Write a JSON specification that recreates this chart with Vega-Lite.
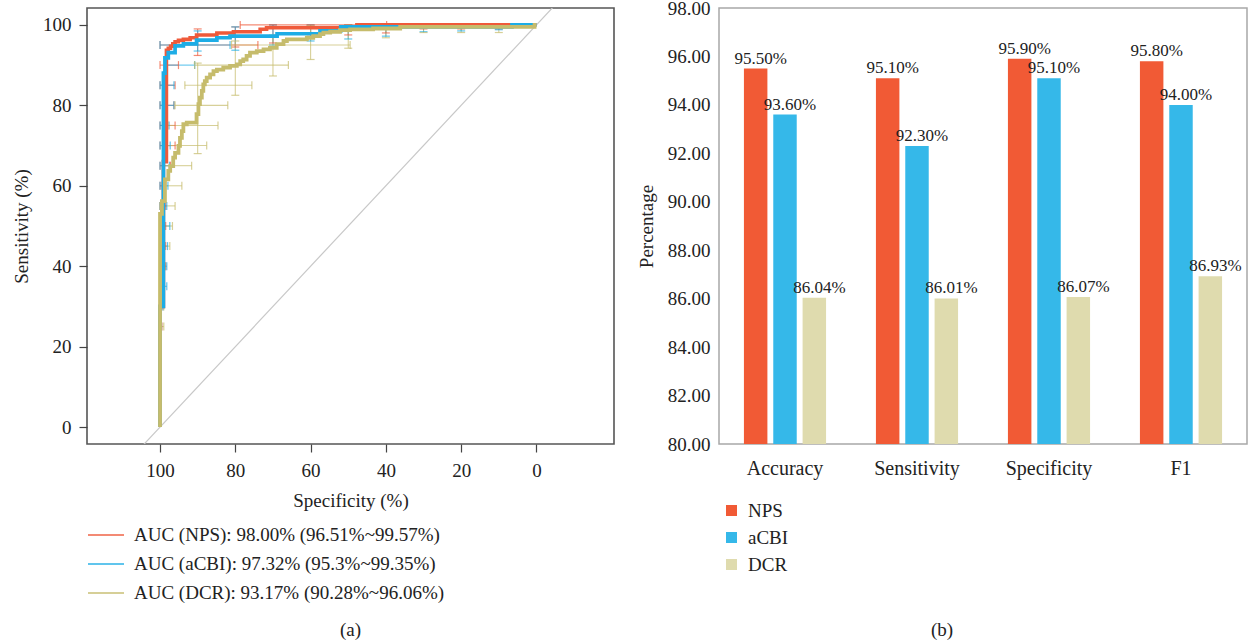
{
  "$schema": "https://vega.github.io/schema/vega-lite/v6.json",
  "padding": {"left": 11, "top": -2, "right": 5, "bottom": 5},
  "background": "white",
  "config": {"font": "Liberation Serif", "text": {"font": "Liberation Serif"}},
  "datasets": {
    "diag": [{"spec": 120, "sens": -20}, {"spec": -20, "sens": 120}],
    "roc": [
      {"series": "NPS", "spec": 100, "sens": 0}, {"series": "NPS", "spec": 100, "sens": 30}, {"series": "NPS", "spec": 99.1, "sens": 30},
      {"series": "NPS", "spec": 99.1, "sens": 66}, {"series": "NPS", "spec": 98.3, "sens": 66}, {"series": "NPS", "spec": 98.3, "sens": 92.3},
      {"series": "NPS", "spec": 97.8, "sens": 93.7}, {"series": "NPS", "spec": 97.2, "sens": 94.2}, {"series": "NPS", "spec": 96.6, "sens": 94.7},
      {"series": "NPS", "spec": 96, "sens": 95.3}, {"series": "NPS", "spec": 95.1, "sens": 95.8}, {"series": "NPS", "spec": 93.8, "sens": 96.2},
      {"series": "NPS", "spec": 92, "sens": 96.4}, {"series": "NPS", "spec": 90.3, "sens": 96.8}, {"series": "NPS", "spec": 84.9, "sens": 97.5},
      {"series": "NPS", "spec": 80.5, "sens": 98}, {"series": "NPS", "spec": 73.4, "sens": 98.3}, {"series": "NPS", "spec": 71.7, "sens": 98.9},
      {"series": "NPS", "spec": 69, "sens": 99.3}, {"series": "NPS", "spec": 47.7, "sens": 99.3}, {"series": "NPS", "spec": 47.7, "sens": 100},
      {"series": "NPS", "spec": 0, "sens": 100},
      {"series": "aCBI", "spec": 100, "sens": 0}, {"series": "aCBI", "spec": 100, "sens": 30}, {"series": "aCBI", "spec": 99.1, "sens": 30},
      {"series": "aCBI", "spec": 99.1, "sens": 88}, {"series": "aCBI", "spec": 98.7, "sens": 88}, {"series": "aCBI", "spec": 98.7, "sens": 90.2},
      {"series": "aCBI", "spec": 97.8, "sens": 91.8}, {"series": "aCBI", "spec": 96, "sens": 93.1}, {"series": "aCBI", "spec": 93.8, "sens": 94.8},
      {"series": "aCBI", "spec": 90.3, "sens": 95.3}, {"series": "aCBI", "spec": 84.9, "sens": 96.2}, {"series": "aCBI", "spec": 81.4, "sens": 96.8},
      {"series": "aCBI", "spec": 77.9, "sens": 97.2}, {"series": "aCBI", "spec": 68.9, "sens": 97.2}, {"series": "aCBI", "spec": 65.5, "sens": 97.8},
      {"series": "aCBI", "spec": 57.5, "sens": 97.8}, {"series": "aCBI", "spec": 52, "sens": 98.5}, {"series": "aCBI", "spec": 46.9, "sens": 99.5},
      {"series": "aCBI", "spec": 6.5, "sens": 99.5}, {"series": "aCBI", "spec": 6.5, "sens": 100}, {"series": "aCBI", "spec": 0, "sens": 100},
      {"series": "DCR", "spec": 100, "sens": 0}, {"series": "DCR", "spec": 100, "sens": 48}, {"series": "DCR", "spec": 99.5, "sens": 53},
      {"series": "DCR", "spec": 98.7, "sens": 56.2}, {"series": "DCR", "spec": 98.7, "sens": 59.5}, {"series": "DCR", "spec": 97.8, "sens": 61.6},
      {"series": "DCR", "spec": 97.3, "sens": 63.7}, {"series": "DCR", "spec": 96.5, "sens": 64.9}, {"series": "DCR", "spec": 96, "sens": 67},
      {"series": "DCR", "spec": 95.1, "sens": 68.2}, {"series": "DCR", "spec": 94.7, "sens": 69.9}, {"series": "DCR", "spec": 94.2, "sens": 71.9},
      {"series": "DCR", "spec": 93.8, "sens": 73.6}, {"series": "DCR", "spec": 92.9, "sens": 75.3}, {"series": "DCR", "spec": 90.3, "sens": 75.7},
      {"series": "DCR", "spec": 89.8, "sens": 77.8}, {"series": "DCR", "spec": 89.4, "sens": 80.3}, {"series": "DCR", "spec": 88.9, "sens": 81.9},
      {"series": "DCR", "spec": 88.5, "sens": 83.6}, {"series": "DCR", "spec": 88.1, "sens": 85.2}, {"series": "DCR", "spec": 87.6, "sens": 86},
      {"series": "DCR", "spec": 86.7, "sens": 86.9}, {"series": "DCR", "spec": 85.8, "sens": 87.7}, {"series": "DCR", "spec": 84.9, "sens": 88.5},
      {"series": "DCR", "spec": 83.2, "sens": 88.9}, {"series": "DCR", "spec": 81.4, "sens": 89.4}, {"series": "DCR", "spec": 79.6, "sens": 89.8},
      {"series": "DCR", "spec": 78.7, "sens": 90.2}, {"series": "DCR", "spec": 77.9, "sens": 91}, {"series": "DCR", "spec": 77, "sens": 91.4},
      {"series": "DCR", "spec": 76.1, "sens": 92.3}, {"series": "DCR", "spec": 74.3, "sens": 93.1}, {"series": "DCR", "spec": 72.5, "sens": 93.5},
      {"series": "DCR", "spec": 70.8, "sens": 93.9}, {"series": "DCR", "spec": 69, "sens": 94.3}, {"series": "DCR", "spec": 67.2, "sens": 95.2},
      {"series": "DCR", "spec": 66.3, "sens": 96}, {"series": "DCR", "spec": 61, "sens": 96.4}, {"series": "DCR", "spec": 59.3, "sens": 96.8},
      {"series": "DCR", "spec": 57.5, "sens": 97.2}, {"series": "DCR", "spec": 56.6, "sens": 97.7}, {"series": "DCR", "spec": 54.8, "sens": 98.1},
      {"series": "DCR", "spec": 52.2, "sens": 98.3}, {"series": "DCR", "spec": 49.5, "sens": 98.7}, {"series": "DCR", "spec": 43.4, "sens": 98.9},
      {"series": "DCR", "spec": 36.2, "sens": 99.1}, {"series": "DCR", "spec": 30, "sens": 99.5}, {"series": "DCR", "spec": 0.5, "sens": 99.5},
      {"series": "DCR", "spec": 0, "sens": 100}
    ],
    "vbar": [
      {"series": "NPS", "spec": 90, "lo": 92.4, "hi": 99}, {"series": "NPS", "spec": 80, "lo": 94.5, "hi": 99.5}, {"series": "NPS", "spec": 70, "lo": 95.5, "hi": 100},
      {"series": "NPS", "spec": 60, "lo": 97.2, "hi": 100}, {"series": "NPS", "spec": 50, "lo": 97.5, "hi": 100}, {"series": "NPS", "spec": 40, "lo": 98, "hi": 100},
      {"series": "NPS", "spec": 30, "lo": 99, "hi": 100}, {"series": "NPS", "spec": 20, "lo": 99, "hi": 100}, {"series": "NPS", "spec": 10, "lo": 99, "hi": 100},
      {"series": "aCBI", "spec": 90, "lo": 93.5, "hi": 98.5}, {"series": "aCBI", "spec": 80, "lo": 93.7, "hi": 99.5}, {"series": "aCBI", "spec": 70, "lo": 95, "hi": 100},
      {"series": "aCBI", "spec": 60, "lo": 96, "hi": 100}, {"series": "aCBI", "spec": 50, "lo": 96.5, "hi": 100}, {"series": "aCBI", "spec": 40, "lo": 97.2, "hi": 100},
      {"series": "aCBI", "spec": 30, "lo": 98.3, "hi": 100}, {"series": "aCBI", "spec": 20, "lo": 98.5, "hi": 100}, {"series": "aCBI", "spec": 10, "lo": 98.8, "hi": 100},
      {"series": "DCR", "spec": 90, "lo": 68, "hi": 90.5}, {"series": "DCR", "spec": 80, "lo": 82.5, "hi": 96}, {"series": "DCR", "spec": 70, "lo": 87.3, "hi": 97.5},
      {"series": "DCR", "spec": 60, "lo": 91.4, "hi": 99.8}, {"series": "DCR", "spec": 50, "lo": 94.2, "hi": 100}, {"series": "DCR", "spec": 40, "lo": 96.8, "hi": 100},
      {"series": "DCR", "spec": 30, "lo": 98.1, "hi": 100}, {"series": "DCR", "spec": 20, "lo": 98.1, "hi": 100}, {"series": "DCR", "spec": 10, "lo": 98.1, "hi": 100}
    ],
    "hbar": [
      {"series": "NPS", "sens": 100, "lo": 39.8, "hi": 78.7}, {"series": "NPS", "sens": 95, "lo": 74, "hi": 100}, {"series": "NPS", "sens": 90, "lo": 95.1, "hi": 100},
      {"series": "NPS", "sens": 85, "lo": 96, "hi": 100}, {"series": "NPS", "sens": 80, "lo": 96.3, "hi": 100}, {"series": "NPS", "sens": 75, "lo": 96, "hi": 100},
      {"series": "NPS", "sens": 70, "lo": 96, "hi": 100}, {"series": "NPS", "sens": 65, "lo": 97.2, "hi": 100}, {"series": "NPS", "sens": 60, "lo": 98.5, "hi": 100},
      {"series": "NPS", "sens": 55, "lo": 98.5, "hi": 100}, {"series": "NPS", "sens": 50, "lo": 98.5, "hi": 100}, {"series": "NPS", "sens": 45, "lo": 98.5, "hi": 100},
      {"series": "NPS", "sens": 40, "lo": 98.5, "hi": 100}, {"series": "NPS", "sens": 35, "lo": 99, "hi": 100}, {"series": "NPS", "sens": 30, "lo": 99.5, "hi": 100},
      {"series": "NPS", "sens": 25, "lo": 99.5, "hi": 100},
      {"series": "aCBI", "sens": 95, "lo": 81.4, "hi": 100}, {"series": "aCBI", "sens": 90, "lo": 90.8, "hi": 98.7}, {"series": "aCBI", "sens": 85, "lo": 96.3, "hi": 100},
      {"series": "aCBI", "sens": 80, "lo": 96.3, "hi": 100}, {"series": "aCBI", "sens": 75, "lo": 97.6, "hi": 100}, {"series": "aCBI", "sens": 70, "lo": 97.3, "hi": 100},
      {"series": "aCBI", "sens": 65, "lo": 97.5, "hi": 100}, {"series": "aCBI", "sens": 60, "lo": 97.9, "hi": 100}, {"series": "aCBI", "sens": 55, "lo": 98.2, "hi": 100},
      {"series": "aCBI", "sens": 50, "lo": 97.4, "hi": 100}, {"series": "aCBI", "sens": 45, "lo": 98, "hi": 100}, {"series": "aCBI", "sens": 40, "lo": 98.2, "hi": 100},
      {"series": "aCBI", "sens": 35, "lo": 98.2, "hi": 100}, {"series": "aCBI", "sens": 30, "lo": 99.2, "hi": 100}, {"series": "aCBI", "sens": 25, "lo": 99.6, "hi": 100},
      {"series": "DCR", "sens": 95, "lo": 49.5, "hi": 81}, {"series": "DCR", "sens": 90, "lo": 65.9, "hi": 90.8}, {"series": "DCR", "sens": 85, "lo": 75.6, "hi": 93.4},
      {"series": "DCR", "sens": 80, "lo": 82, "hi": 96}, {"series": "DCR", "sens": 75, "lo": 84.6, "hi": 97.9}, {"series": "DCR", "sens": 70, "lo": 87.6, "hi": 98.7},
      {"series": "DCR", "sens": 65, "lo": 91.6, "hi": 99}, {"series": "DCR", "sens": 60, "lo": 94.2, "hi": 99.5}, {"series": "DCR", "sens": 55, "lo": 96, "hi": 100},
      {"series": "DCR", "sens": 50, "lo": 96.7, "hi": 100}, {"series": "DCR", "sens": 45, "lo": 97.4, "hi": 100}, {"series": "DCR", "sens": 40, "lo": 98.7, "hi": 100},
      {"series": "DCR", "sens": 35, "lo": 99, "hi": 100}, {"series": "DCR", "sens": 30, "lo": 99, "hi": 100}, {"series": "DCR", "sens": 25, "lo": 99, "hi": 100}
    ],
    "bars": [
      {"metric": "Accuracy", "method": "NPS", "value": 95.5, "label": "95.50%"},
      {"metric": "Accuracy", "method": "aCBI", "value": 93.6, "label": "93.60%"},
      {"metric": "Accuracy", "method": "DCR", "value": 86.04, "label": "86.04%"},
      {"metric": "Sensitivity", "method": "NPS", "value": 95.1, "label": "95.10%"},
      {"metric": "Sensitivity", "method": "aCBI", "value": 92.3, "label": "92.30%"},
      {"metric": "Sensitivity", "method": "DCR", "value": 86.01, "label": "86.01%"},
      {"metric": "Specificity", "method": "NPS", "value": 95.9, "label": "95.90%"},
      {"metric": "Specificity", "method": "aCBI", "value": 95.1, "label": "95.10%"},
      {"metric": "Specificity", "method": "DCR", "value": 86.07, "label": "86.07%"},
      {"metric": "F1", "method": "NPS", "value": 95.8, "label": "95.80%"},
      {"metric": "F1", "method": "aCBI", "value": 94.0, "label": "94.00%"},
      {"metric": "F1", "method": "DCR", "value": 86.93, "label": "86.93%"}
    ]
  },
  "hconcat": [
    {
      "width": 527,
      "height": 436,
      "view": {"stroke": "#555555", "strokeWidth": 1.6},
      "title": {"text": "(a)", "orient": "bottom", "anchor": "middle", "frame": "group", "offset": 18, "fontSize": 19, "font": "Liberation Serif", "fontWeight": "normal", "color": "#222222"},
      "layer": [
        {
          "data": {"name": "diag"},
          "mark": {"type": "line", "color": "#C8C8C8", "strokeWidth": 1.2, "clip": true},
          "encoding": {
            "x": {"field": "spec", "type": "quantitative", "title": "Specificity (%)",
                  "scale": {"domain": [-20.6, 119.4], "reverse": true, "nice": false, "zero": false},
                  "axis": {"values": [100, 80, 60, 40, 20, 0], "domain": false, "grid": false, "ticks": true, "tickSize": 8, "tickColor": "#444444", "tickWidth": 1.2,
                           "labelFont": "Liberation Serif", "labelFontSize": 19, "labelColor": "#222222", "labelPadding": 9, "labelFlush": false,
                           "titleFont": "Liberation Serif", "titleFontSize": 19, "titleFontWeight": "normal", "titleColor": "#222222", "titlePadding": 11}},
            "y": {"field": "sens", "type": "quantitative", "title": "Sensitivity (%)",
                  "scale": {"domain": [-4.2, 104.2], "nice": false, "zero": false},
                  "axis": {"values": [0, 20, 40, 60, 80, 100], "domain": false, "grid": false, "ticks": true, "tickSize": 8, "tickColor": "#444444", "tickWidth": 1.2,
                           "labelFont": "Liberation Serif", "labelFontSize": 19, "labelColor": "#222222", "labelPadding": 8, "labelFlush": false,
                           "titleFont": "Liberation Serif", "titleFontSize": 19, "titleFontWeight": "normal", "titleColor": "#222222", "titlePadding": 11}}
          }
        },
        {
          "data": {"name": "vbar"},
          "mark": {"type": "rule", "strokeWidth": 1.1, "opacity": 0.7},
          "encoding": {
            "x": {"field": "spec", "type": "quantitative", "title": "Specificity (%)", "scale": {"domain": [-20.6, 119.4], "reverse": true, "nice": false, "zero": false}},
            "y": {"field": "lo", "type": "quantitative", "title": "Sensitivity (%)", "scale": {"domain": [-4.2, 104.2], "nice": false, "zero": false}},
            "y2": {"field": "hi"},
            "color": {"field": "series", "type": "nominal"}
          }
        },
        {
          "data": {"name": "vbar"},
          "mark": {"type": "tick", "orient": "horizontal", "size": 8, "thickness": 1.2, "opacity": 0.7},
          "encoding": {
            "x": {"field": "spec", "type": "quantitative", "title": "Specificity (%)", "scale": {"domain": [-20.6, 119.4], "reverse": true, "nice": false, "zero": false}},
            "y": {"field": "lo", "type": "quantitative", "title": "Sensitivity (%)", "scale": {"domain": [-4.2, 104.2], "nice": false, "zero": false}},
            "color": {"field": "series", "type": "nominal"}
          }
        },
        {
          "data": {"name": "vbar"},
          "mark": {"type": "tick", "orient": "horizontal", "size": 8, "thickness": 1.2, "opacity": 0.7},
          "encoding": {
            "x": {"field": "spec", "type": "quantitative", "title": "Specificity (%)", "scale": {"domain": [-20.6, 119.4], "reverse": true, "nice": false, "zero": false}},
            "y": {"field": "hi", "type": "quantitative", "title": "Sensitivity (%)", "scale": {"domain": [-4.2, 104.2], "nice": false, "zero": false}},
            "color": {"field": "series", "type": "nominal"}
          }
        },
        {
          "data": {"name": "hbar"},
          "mark": {"type": "rule", "strokeWidth": 1.1, "opacity": 0.7},
          "encoding": {
            "x": {"field": "lo", "type": "quantitative", "title": "Specificity (%)", "scale": {"domain": [-20.6, 119.4], "reverse": true, "nice": false, "zero": false}},
            "x2": {"field": "hi"},
            "y": {"field": "sens", "type": "quantitative", "title": "Sensitivity (%)", "scale": {"domain": [-4.2, 104.2], "nice": false, "zero": false}},
            "color": {"field": "series", "type": "nominal"}
          }
        },
        {
          "data": {"name": "hbar"},
          "mark": {"type": "tick", "orient": "vertical", "size": 8, "thickness": 1.2, "opacity": 0.7},
          "encoding": {
            "x": {"field": "lo", "type": "quantitative", "title": "Specificity (%)", "scale": {"domain": [-20.6, 119.4], "reverse": true, "nice": false, "zero": false}},
            "y": {"field": "sens", "type": "quantitative", "title": "Sensitivity (%)", "scale": {"domain": [-4.2, 104.2], "nice": false, "zero": false}},
            "color": {"field": "series", "type": "nominal"}
          }
        },
        {
          "data": {"name": "hbar"},
          "mark": {"type": "tick", "orient": "vertical", "size": 8, "thickness": 1.2, "opacity": 0.7},
          "encoding": {
            "x": {"field": "hi", "type": "quantitative", "title": "Specificity (%)", "scale": {"domain": [-20.6, 119.4], "reverse": true, "nice": false, "zero": false}},
            "y": {"field": "sens", "type": "quantitative", "title": "Sensitivity (%)", "scale": {"domain": [-4.2, 104.2], "nice": false, "zero": false}},
            "color": {"field": "series", "type": "nominal"}
          }
        },
        {
          "data": {"name": "roc"},
          "mark": {"type": "line", "interpolate": "step-before"},
          "encoding": {
            "x": {"field": "spec", "type": "quantitative", "title": "Specificity (%)", "scale": {"domain": [-20.6, 119.4], "reverse": true, "nice": false, "zero": false}},
            "y": {"field": "sens", "type": "quantitative", "title": "Sensitivity (%)", "scale": {"domain": [-4.2, 104.2], "nice": false, "zero": false}},
            "order": [{"field": "sens", "type": "quantitative"}, {"field": "spec", "type": "quantitative", "sort": "descending"}],
            "strokeWidth": {"field": "series", "type": "nominal", "scale": {"domain": ["NPS", "aCBI", "DCR"], "range": [3.6, 3.8, 5]}, "legend": null},
            "color": {"field": "series", "type": "nominal",
                      "scale": {"domain": ["NPS", "aCBI", "DCR"], "range": ["#EF5A3A", "#1DADE6", "#C6BC6C"]},
                      "legend": {"orient": "none", "legendX": 0, "legendY": 508, "title": null, "symbolType": "stroke", "symbolSize": 1296, "symbolStrokeWidth": 2, "symbolOpacity": 1,
                                 "labelFont": "Liberation Serif", "labelFontSize": 19, "labelColor": "#222222", "labelOffset": 9, "rowPadding": -1, "labelLimit": 600,
                                 "labelExpr": "datum.value == 'NPS' ? 'AUC (NPS): 98.00% (96.51%~99.57%)' : datum.value == 'aCBI' ? 'AUC (aCBI): 97.32% (95.3%~99.35%)' : 'AUC (DCR): 93.17% (90.28%~96.06%)'"}}
          }
        }
      ]
    },
    {
      "width": 528,
      "height": 436,
      "view": {"stroke": "#A8A8A8", "strokeWidth": 1.5},
      "title": {"text": "(b)", "orient": "bottom", "anchor": "middle", "frame": "bounds", "offset": 46, "fontSize": 19, "font": "Liberation Serif", "fontWeight": "normal", "color": "#222222"},
      "data": {"name": "bars"},
      "encoding": {
        "x": {"field": "metric", "type": "nominal", "sort": ["Accuracy", "Sensitivity", "Specificity", "F1"], "title": null,
              "scale": {"paddingInner": 0, "paddingOuter": 0},
              "axis": {"labelAngle": 0, "ticks": false, "domain": false, "labelFont": "Liberation Serif", "labelFontSize": 20, "labelColor": "#222222", "labelPadding": 14}},
        "xOffset": {"field": "method", "type": "nominal", "sort": ["NPS", "aCBI", "DCR"], "scale": {"paddingInner": 0.2, "paddingOuter": 0.85}},
        "y": {"field": "value", "type": "quantitative", "title": "Percentage",
              "scale": {"domain": [80, 98], "zero": false, "nice": false},
              "axis": {"values": [80, 82, 84, 86, 88, 90, 92, 94, 96, 98], "format": ".2f", "grid": false, "ticks": false, "domain": false, "labelFlush": false, "labelOverlap": false,
                       "labelFont": "Liberation Serif", "labelFontSize": 19, "labelColor": "#222222", "labelPadding": 9,
                       "titleFont": "Liberation Serif", "titleFontSize": 19, "titleFontWeight": "normal", "titleColor": "#222222", "titlePadding": 11}}
      },
      "layer": [
        {
          "mark": {"type": "bar"},
          "encoding": {
            "y2": {"datum": 80},
            "color": {"field": "method", "type": "nominal",
                      "scale": {"domain": ["NPS", "aCBI", "DCR"], "range": ["#F15A35", "#35B8E9", "#DFDBAE"]},
                      "legend": {"orient": "none", "legendX": 3, "legendY": 493, "title": null, "symbolType": "square", "symbolSize": 121, "symbolOpacity": 1,
                                 "labelFont": "Liberation Serif", "labelFontSize": 19, "labelColor": "#222222", "labelOffset": 7, "rowPadding": 7}}
          }
        },
        {
          "mark": {"type": "text", "dx": 5, "dy": -5, "baseline": "alphabetic", "align": "center", "font": "Liberation Serif", "fontSize": 17, "color": "#222222"},
          "encoding": {"text": {"field": "label"}}
        }
      ]
    }
  ],
  "spacing": 105,
  "bounds": "flush",
  "resolve": {"scale": {"color": "independent"}, "legend": {"color": "independent"}}
}
